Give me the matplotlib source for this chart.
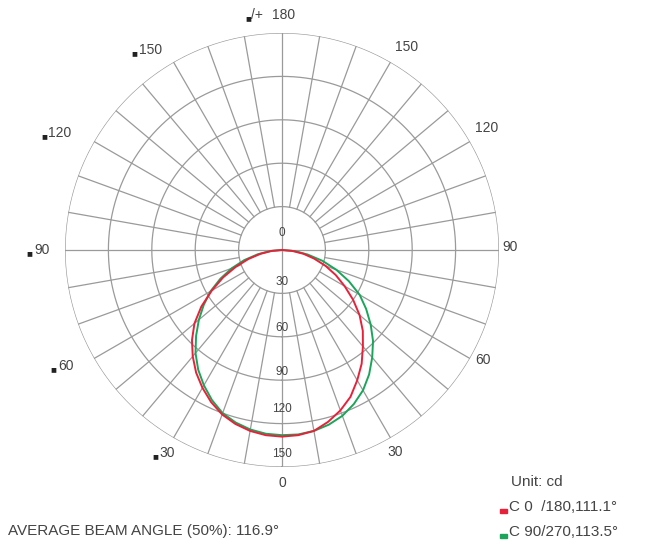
import numpy as np
import matplotlib
matplotlib.use("Agg")
import matplotlib.pyplot as plt
from matplotlib.patches import Rectangle

plt.rcParams['font.family'] = ['Liberation Sans', 'DejaVu Sans']

# luminous intensity (cd) vs gamma angle
GAMMA = [0, 5, 10, 15, 20, 25, 30, 35, 40, 45, 50, 55, 60, 65, 70, 75, 80, 85, 90]
C0 = [129, 128.5, 127, 123, 118, 112, 104, 96, 87, 79, 70, 60, 50, 41, 32, 23, 15, 7, 0]            # right, red
C180 = [129, 128.5, 127, 124.5, 121, 116, 110, 103.5, 96, 88, 79, 68, 56, 45, 34, 24, 15, 7, 0]     # left, red
C90 = [128, 128, 127, 125, 122, 117.5, 112, 105, 97, 89, 80, 71, 62, 51, 40, 29, 18, 9, 0]          # right, green
C270 = [128, 127.5, 126, 123.5, 120, 114.5, 108, 101, 93, 84, 75, 66, 57, 47, 37, 27, 17, 8, 0]     # left, green
RINGS = [30, 60, 90, 120, 150]
RING_LABELS = ["0", "30", "60", "90", "120", "150"]
ANG_RIGHT = ["0", "30", "60", "90", "120", "150"]
ANG_LEFT = ["30", "60", "90", "120", "150"]
LEGEND = ["C 0  /180,111.1°", "C 90/270,113.5°"]
BEAM = "AVERAGE BEAM ANGLE (50%): 116.9°"

GRID = '#9a9a9a'
TXT = '#444444'
RED = '#e8213a'
GREEN = '#1aa55a'

W, H = 655, 552
fig = plt.figure(figsize=(W / 100, H / 100), dpi=100)
cx, cy, R = 282, 250, 217
ax = fig.add_axes([(cx - R) / W, (H - cy - R) / H, 2 * R / W, 2 * R / H], projection='polar')
ax.set_theta_zero_location('S')
ax.set_theta_direction(1)
ax.set_ylim(0, 150)
ax.grid(False)
ax.set_xticks([]); ax.set_yticks([])
ax.spines['polar'].set_visible(False)

th = np.linspace(0, 2 * np.pi, 721)
for r in RINGS:
    ax.plot(th, np.full_like(th, r), color=GRID, lw=0.9, zorder=1)
for a in range(0, 360, 10):
    t = np.deg2rad(a)
    r0 = 0 if a % 90 == 0 else 30
    ax.plot([t, t], [r0, 150], color=GRID, lw=0.9, zorder=1)

g = np.array(GAMMA)
t_full = np.deg2rad(np.r_[-g[::-1], g[1:]])
ax.plot(t_full, np.r_[C270[::-1], C90[1:]], color=GREEN, lw=1.4, zorder=3)
ax.plot(t_full, np.r_[C180[::-1], C0[1:]], color=RED, lw=1.4, zorder=4)

# intensity labels along the lower axis
ring_pos = [(180, 12), (0, 22), (0, 54), (0, 84), (0, 110), (0, 141)]
for lab, (a, r) in zip(RING_LABELS, ring_pos):
    ax.text(np.deg2rad(a), r, lab, ha='center', va='center', fontsize=8.5, color=TXT, zorder=5)

# gamma labels, right side
right_pos = [(0, 161), (29.2, 160), (61.3, 158.3), (90.8, 157.6), (120.8, 164.9), (148.4, 164.5)]
for lab, (a, r) in zip(ANG_RIGHT, right_pos):
    ax.text(np.deg2rad(a), r, lab, ha='center', va='center', fontsize=10, color=TXT)

# gamma labels, left side (with little square)
left_pos = [(-29.5, 161), (-61.8, 169.5), (-90, 166), (-117.8, 173.4), (-146.6, 165.6)]
for lab, (a, r) in zip(ANG_LEFT, left_pos):
    ax.annotate(lab, (np.deg2rad(a), r), ha='center', va='center', fontsize=10,
                color=TXT, annotation_clip=False)
    ax.annotate('■', (np.deg2rad(a), r), xytext=(-len(lab) * 2.8 - 3.3, -2.2),
                textcoords='offset points', ha='center', va='center', fontsize=7,
                color='#222222', annotation_clip=False)

fig.text(272 / W, 1 - 15 / H, '180', ha='left', va='center', fontsize=10, color=TXT)
fig.text(248 / W, 1 - 18 / H, '■', ha='center', va='center', fontsize=7, color='#222222')
fig.text(251 / W, 1 - 15 / H, '/+', ha='left', va='center', fontsize=10, color=TXT)

fig.text(511 / W, 1 - 482 / H, 'Unit: cd', ha='left', va='center', fontsize=11, color=TXT)
for i, (lab, col) in enumerate(zip(LEGEND, [RED, GREEN])):
    y = 507 + 25 * i
    fig.text(509 / W, 1 - y / H, lab, ha='left', va='center', fontsize=11, color=TXT)
    fig.patches.append(Rectangle((500 / W, 1 - (y + 6) / H), 7 / W, 4 / H,
                                 transform=fig.transFigure, color=col))

fig.text(8 / W, 1 - 531 / H, BEAM, ha='left', va='center', fontsize=11, color=TXT)

fig.savefig('out.png', dpi=100, facecolor='white')
